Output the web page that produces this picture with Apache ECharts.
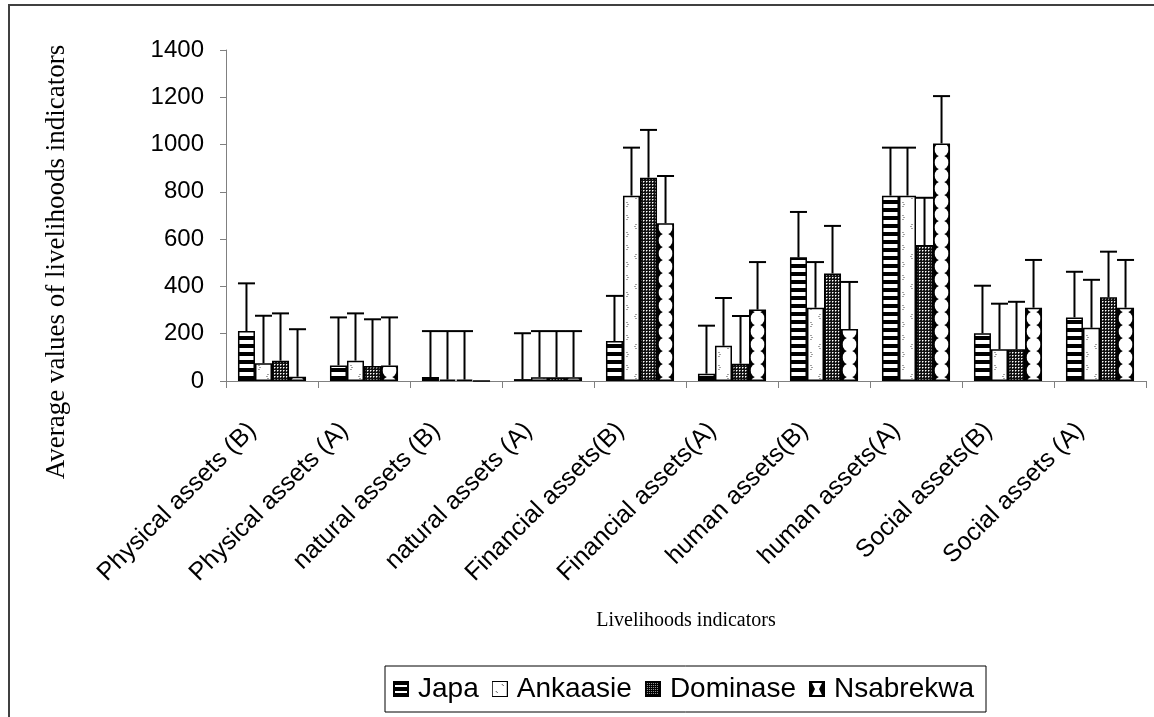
<!DOCTYPE html>
<html>
<head>
<meta charset="utf-8">
<script src="https://cdn.jsdelivr.net/npm/echarts@6/dist/echarts.min.js"></script>
<style>
html, body { margin: 0; padding: 0; background: #fff; }
#main { width: 1154px; height: 717px; }
</style>
</head>
<body>
<div id="main"></div>
<script>
// data
const categories = ['Physical assets (B)', 'Physical assets (A)', 'natural assets (B)', 'natural assets (A)',
    'Financial assets(B)', 'Financial assets(A)', 'human assets(B)', 'human assets(A)',
    'Social assets(B)', 'Social assets (A)'];
const seriesNames = ['Japa', 'Ankaasie', 'Dominase', 'Nsabrekwa'];
const japa = [211, 66, 17, 8, 169, 31, 523, 784, 202, 269];
const ankaasie = [75, 86, 6, 16, 784, 149, 310, 784, 134, 225];
const dominase = [86, 63, 6, 16, 860, 73, 455, 575, 134, 354];
const nsabrekwa = [18, 66, 0, 16, 667, 302, 220, 1005, 310, 310];
// upper error bars
const japaErr = [202, 203, 194, 194, 191, 203, 192, 203, 201, 193];
const ankaasieErr = [201, 200, 205, 195, 203, 202, 193, 203, 193, 203];
const dominaseErr = [200, 198, 205, 195, 202, 202, 201, 200, 201, 193];
const nsabrekwaErr = [201, 203, null, 195, 200, 201, 199, 200, 202, 202];
const yTicks = [0, 200, 400, 600, 800, 1000, 1200, 1400];

const GRID_LEFT = 226, GRID_TOP = 50, GRID_W = 920, GRID_H = 331;
const BAND = GRID_W / categories.length;
const CAT_GAP = 0.26;
const BAR_W = BAND * (1 - CAT_GAP) / 4;

function tile(w, h, draw) {
    const c = document.createElement('canvas');
    c.width = w; c.height = h;
    const ctx = c.getContext('2d');
    draw(ctx);
    return c;
}
// x offset (mod band) of a bar's centre, so band-wide tiles line up with the bars
function barOffset(k) {
    const cx = GRID_LEFT + BAND / 2 + (k - 1.5) * BAR_W;
    return cx - Math.floor(cx / BAND) * BAND;
}

const japaTile = tile(4, 8, ctx => {
    ctx.fillStyle = '#fff'; ctx.fillRect(0, 0, 4, 8);
    ctx.fillStyle = '#000'; ctx.fillRect(0, 0, 4, 4);
});
const ankTile = tile(BAND, 30, ctx => {
    ctx.fillStyle = '#fff'; ctx.fillRect(0, 0, BAND, 30);
    ctx.fillStyle = '#444';
    const c = barOffset(1);
    [[0, 0], [1, 1], [0, 2]].forEach(p => ctx.fillRect(c - 5 + p[0], 5 + p[1] * 2, 1, 1));
    [[1, 0], [0, 1], [1, 2]].forEach(p => ctx.fillRect(c + 3 + p[0], 14 + p[1] * 2, 1, 1));
    [[0, 0], [1, 1], [0, 2]].forEach(p => ctx.fillRect(c - 5 + p[0], 22 + p[1] * 2, 1, 1));
});
const domTile = tile(3, 3, ctx => {
    ctx.fillStyle = '#111'; ctx.fillRect(0, 0, 3, 3);
    ctx.fillStyle = '#fff'; ctx.fillRect(1, 1, 1, 1);
    ctx.fillStyle = '#888'; ctx.fillRect(2, 1, 1, 1); ctx.fillRect(1, 2, 1, 1);
});
const nsaTile = tile(BAND, 13, ctx => {
    ctx.fillStyle = '#000'; ctx.fillRect(0, 0, BAND, 13);
    ctx.fillStyle = '#fff';
    const c = barOffset(3);
    ctx.beginPath(); ctx.arc(c, 6.5, 7, 0, Math.PI * 2); ctx.fill();
});
const patterns = [japaTile, ankTile, domTile, nsaTile];

// legend icons
function icon(draw) {
    return 'image://' + tile(16, 16, ctx => { draw(ctx); }).toDataURL();
}
const legendIcons = [
    icon(ctx => {
        ctx.fillStyle = '#000'; ctx.fillRect(0, 0, 16, 16);
        ctx.fillStyle = '#fff'; ctx.fillRect(2, 4, 12, 2); ctx.fillRect(2, 10, 12, 2);
    }),
    icon(ctx => {
        ctx.fillStyle = '#000'; ctx.fillRect(0, 0, 16, 16);
        ctx.fillStyle = '#fff'; ctx.fillRect(1, 1, 14, 14);
        ctx.fillStyle = '#555'; ctx.fillRect(10, 3, 1, 1); ctx.fillRect(11, 4, 1, 1); ctx.fillRect(4, 10, 1, 1); ctx.fillRect(5, 11, 1, 1);
    }),
    icon(ctx => {
        ctx.fillStyle = '#000'; ctx.fillRect(0, 0, 16, 16);
        ctx.fillStyle = '#999';
        for (let x = 2; x < 14; x += 2) for (let y = 2; y < 14; y += 2) ctx.fillRect(x, y, 1, 1);
    }),
    icon(ctx => {
        ctx.fillStyle = '#000'; ctx.fillRect(0, 0, 16, 16);
        ctx.fillStyle = '#fff';
        ctx.beginPath(); ctx.moveTo(3, 2); ctx.lineTo(13, 2); ctx.lineTo(10, 8); ctx.lineTo(13, 14); ctx.lineTo(3, 14); ctx.lineTo(6, 8); ctx.closePath(); ctx.fill();
    })
];

const values = [japa, ankaasie, dominase, nsabrekwa];
const errors = [japaErr, ankaasieErr, dominaseErr, nsabrekwaErr];

const barSeries = seriesNames.map((name, k) => ({
    name: name,
    type: 'bar',
    barGap: '0%',
    barCategoryGap: (CAT_GAP * 100) + '%',
    itemStyle: {
        color: { image: patterns[k], repeat: 'repeat' },
        borderColor: '#000',
        borderWidth: 1.5
    },
    emphasis: { disabled: true },
    data: values[k]
}));

const errSeries = seriesNames.map((name, k) => ({
    name: name + ' error',
    type: 'custom',
    z: 3,
    encode: { x: 0, y: 1 },
    renderItem: function (params, api) {
        const i = api.value(0), v = api.value(1), e = api.value(2);
        const base = api.coord([i, v]);
        const top = api.coord([i, v + e]);
        const bw = api.size([1, 0])[0] * (1 - CAT_GAP) / 4;
        const x = base[0] + (k - 1.5) * bw;
        const st = { stroke: '#000', lineWidth: 2 };
        return {
            type: 'group',
            children: [
                { type: 'line', shape: { x1: x, y1: base[1], x2: x, y2: top[1] }, style: st },
                { type: 'line', shape: { x1: x - bw / 2, y1: top[1], x2: x + bw / 2, y2: top[1] }, style: st }
            ]
        };
    },
    data: values[k].map((v, i) => [i, v, errors[k][i]]).filter(d => d[2] != null)
}));

const chart = echarts.init(document.getElementById('main'));
const option = {
    animation: false,
    backgroundColor: '#fff',
    grid: { left: GRID_LEFT, top: GRID_TOP, width: GRID_W, height: GRID_H },
    legend: {
        data: seriesNames.map((n, k) => ({ name: n, icon: legendIcons[k] })),
        left: 385,
        top: 666,
        itemWidth: 16,
        itemHeight: 16,
        itemGap: 13,
        padding: [9, 12, 9, 8],
        borderColor: '#000',
        borderWidth: 1,
        selectedMode: false,
        textStyle: { color: '#000', fontSize: 28, fontFamily: 'Liberation Sans', padding: [0, 0, 0, 4] }
    },
    xAxis: {
        type: 'category',
        data: categories,
        axisLine: { lineStyle: { color: '#808080', width: 1 } },
        axisTick: { show: true, length: 7, lineStyle: { color: '#808080' } },
        axisLabel: {
            rotate: 45,
            interval: 0,
            margin: 26,
            padding: [0, 28, 0, 0],
            color: '#000',
            fontSize: 25,
            fontFamily: 'Liberation Sans'
        }
    },
    yAxis: {
        type: 'value',
        min: 0,
        max: yTicks[yTicks.length - 1],
        interval: yTicks[1] - yTicks[0],
        splitLine: { show: false },
        axisLine: { show: true, lineStyle: { color: '#808080', width: 1 } },
        axisTick: { show: true, length: 6, lineStyle: { color: '#808080' } },
        axisLabel: {
            margin: 22, color: '#000', fontSize: 24, fontFamily: 'Liberation Sans',
            formatter: v => String(v)
        }
    },
    graphic: [
        {
            type: 'rect', silent: true,
            shape: { x: 9, y: 5, width: 1160, height: 730 },
            style: { fill: 'none', stroke: '#404040', lineWidth: 2 }
        },
        {
            type: 'text', x: 57, y: 262, rotation: Math.PI / 2,
            style: {
                text: 'Average values of livelihoods indicators',
                font: '27px "Liberation Serif"', fill: '#000',
                textAlign: 'center', textVerticalAlign: 'middle'
            }
        },
        {
            type: 'text', x: 686, y: 621,
            style: {
                text: 'Livelihoods indicators',
                font: '20px "Liberation Serif"', fill: '#000',
                textAlign: 'center', textVerticalAlign: 'middle'
            }
        }
    ],
    series: barSeries.concat(errSeries)
};
chart.setOption(option);
</script>
</body>
</html>
